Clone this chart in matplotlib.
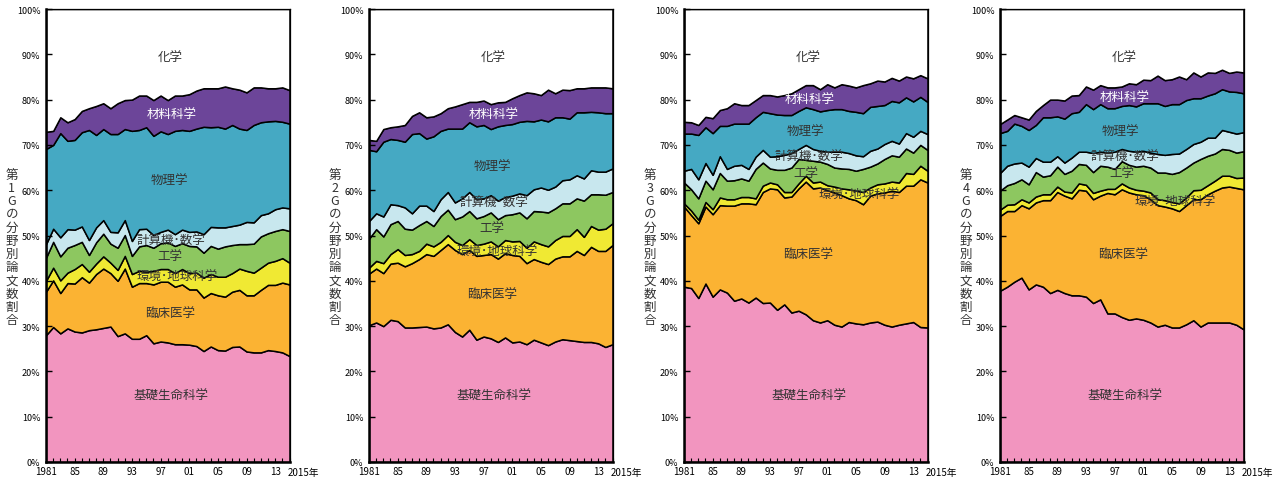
import numpy as np
import matplotlib
matplotlib.use('Agg')
import matplotlib.pyplot as plt

plt.rcParams['font.family'] = ['Noto Sans CJK JP', 'DejaVu Sans']

years = np.arange(1981, 2016)
fields = ['基礎生命科学', '臨床医学', '環境･地球科学', '工学', '計算機･数学', '物理学', '材料科学', '化学']
colors = ['#F295BF', '#FBB333', '#F0E933', '#8DC760', '#C8E7EE', '#45A9C3', '#6C4599', '#FFFFFF']
xtick_years = [1981, 1985, 1989, 1993, 1997, 2001, 2005, 2009, 2013]
xtick_labels = ['1981', '85', '89', '93', '97', '01', '05', '09', '13']

# 累積割合(%)：各行は下から順に各分野の上端
g1 = [
    [28.0, 29.8, 28.4, 29.5, 28.8, 28.6, 29.1, 29.3, 29.6, 29.9, 27.8, 28.4, 27.2, 27.2, 28.0, 26.2, 26.6, 26.4, 26.0, 26.0, 25.9, 25.6, 24.5, 25.5, 24.7, 24.6, 25.4, 25.5, 24.4, 24.2, 24.2, 24.7, 24.5, 24.2, 23.4],
    [37.6, 40.1, 37.3, 39.5, 39.4, 40.8, 39.6, 41.5, 42.7, 41.7, 40.0, 42.7, 38.7, 39.5, 39.5, 39.2, 39.8, 39.8, 38.7, 39.2, 38.1, 38.1, 36.3, 37.3, 36.8, 36.5, 37.6, 38.0, 36.8, 36.8, 38.0, 39.1, 39.1, 39.6, 39.2],
    [40.0, 42.9, 40.1, 41.8, 42.6, 43.7, 42.0, 43.8, 45.4, 44.0, 42.4, 45.5, 41.5, 42.2, 42.0, 42.2, 42.6, 42.6, 41.7, 42.6, 41.7, 41.8, 40.7, 41.5, 40.9, 40.9, 41.7, 42.7, 42.2, 41.8, 42.9, 44.0, 44.4, 45.0, 44.0],
    [45.1, 48.6, 45.4, 47.3, 47.9, 48.6, 45.7, 48.5, 50.4, 48.2, 47.3, 50.1, 45.5, 47.6, 47.9, 47.3, 48.3, 48.5, 47.7, 48.3, 47.7, 47.6, 46.2, 47.7, 47.1, 47.6, 47.9, 48.1, 48.1, 48.2, 49.8, 50.5, 51.0, 51.4, 51.0],
    [48.1, 51.5, 49.6, 51.4, 51.3, 52.0, 49.0, 51.8, 53.4, 50.8, 50.7, 53.4, 48.8, 51.4, 51.5, 50.1, 50.8, 51.3, 50.3, 51.3, 50.8, 50.9, 50.3, 51.9, 51.8, 51.8, 52.1, 52.4, 53.0, 52.9, 54.5, 54.9, 55.8, 56.2, 56.0],
    [69.1, 70.0, 72.6, 70.9, 71.1, 72.8, 73.3, 72.2, 73.5, 72.4, 72.4, 73.5, 73.1, 73.3, 73.9, 72.0, 73.0, 72.4, 73.1, 73.3, 73.1, 73.6, 74.0, 73.9, 74.0, 73.6, 74.4, 73.6, 73.3, 74.4, 75.0, 75.2, 75.3, 75.1, 74.7],
    [72.9, 73.1, 76.1, 75.0, 75.7, 77.5, 78.1, 78.6, 79.2, 78.1, 79.2, 79.9, 80.0, 80.9, 80.9, 79.9, 80.9, 79.9, 80.9, 80.9, 81.2, 82.0, 82.5, 82.5, 82.5, 82.9, 82.5, 82.2, 81.6, 82.7, 82.7, 82.5, 82.5, 82.7, 82.1],
]
g2 = [
    [30.2, 30.8, 30.0, 31.4, 31.1, 29.7, 29.7, 29.8, 29.9, 29.5, 29.7, 30.4, 28.7, 27.7, 29.2, 27.0, 27.7, 27.3, 26.5, 27.5, 26.4, 26.6, 26.0, 27.0, 26.4, 25.8, 26.6, 27.1, 26.9, 26.7, 26.5, 26.5, 26.2, 25.4, 26.0],
    [41.6, 42.7, 41.7, 43.8, 44.0, 43.2, 43.9, 44.8, 45.9, 45.5, 46.8, 48.1, 46.8, 45.9, 46.8, 45.5, 45.7, 45.9, 44.9, 46.1, 45.7, 45.5, 43.9, 44.8, 44.2, 43.7, 44.9, 45.4, 45.4, 46.6, 45.7, 47.5, 46.6, 46.6, 47.9],
    [42.9, 44.4, 43.9, 45.9, 47.0, 45.7, 45.9, 46.6, 48.2, 47.6, 48.6, 50.1, 48.6, 47.9, 49.2, 47.9, 48.2, 48.7, 47.6, 49.0, 48.7, 48.8, 47.3, 48.7, 48.1, 47.6, 49.0, 49.9, 49.9, 51.4, 49.7, 52.1, 51.3, 51.5, 52.7],
    [49.3, 51.4, 49.8, 52.5, 53.2, 51.5, 51.3, 52.3, 53.2, 52.1, 54.3, 55.7, 53.6, 54.2, 55.4, 53.8, 54.3, 55.1, 53.6, 54.5, 54.7, 55.1, 53.8, 55.4, 55.3, 55.1, 56.0, 57.1, 57.1, 58.2, 57.7, 59.1, 59.1, 59.0, 59.6],
    [53.2, 54.9, 54.2, 56.9, 56.7, 56.2, 54.9, 56.6, 56.6, 55.4, 58.0, 59.6, 57.3, 58.2, 59.6, 58.0, 58.2, 58.9, 57.7, 58.5, 58.8, 59.3, 58.9, 60.2, 60.6, 60.1, 60.8, 62.2, 62.4, 63.3, 62.6, 64.4, 64.1, 64.1, 64.8],
    [68.9, 68.6, 70.7, 71.3, 71.1, 70.7, 72.4, 72.6, 71.4, 71.9, 73.1, 73.6, 73.6, 73.6, 75.0, 74.1, 74.4, 73.5, 74.1, 74.4, 74.6, 75.1, 75.3, 75.2, 75.6, 75.2, 76.1, 76.1, 75.8, 77.2, 77.2, 77.3, 77.2, 77.0, 77.0],
    [71.1, 70.9, 73.5, 73.9, 74.1, 74.4, 76.4, 77.2, 76.1, 76.3, 77.0, 78.1, 78.5, 79.0, 79.5, 79.5, 79.8, 79.0, 79.4, 79.5, 80.3, 81.0, 81.6, 81.4, 81.0, 82.2, 81.4, 82.2, 82.1, 82.5, 82.5, 82.7, 82.7, 82.7, 82.5],
]
g3 = [
    [38.7, 38.4, 36.2, 39.4, 36.5, 38.1, 37.4, 35.6, 36.1, 35.2, 36.3, 35.1, 35.2, 33.6, 34.8, 33.0, 33.4, 32.6, 31.3, 30.8, 31.3, 30.3, 29.9, 30.9, 30.6, 30.4, 30.8, 31.0, 30.3, 29.9, 30.3, 30.6, 30.9, 29.8, 29.7],
    [56.4, 54.5, 52.7, 56.4, 54.7, 56.7, 56.6, 56.6, 57.1, 57.1, 56.9, 59.6, 60.4, 60.2, 58.4, 58.6, 60.4, 61.9, 60.4, 60.6, 60.0, 59.5, 58.9, 58.2, 57.8, 56.9, 58.8, 59.3, 59.5, 59.9, 59.6, 61.0, 61.0, 62.4, 61.7],
    [57.1, 55.5, 53.5, 57.4, 55.8, 58.4, 58.0, 58.0, 58.5, 58.5, 58.2, 61.0, 61.7, 61.3, 59.6, 59.6, 61.5, 63.2, 61.7, 61.9, 61.1, 60.8, 60.4, 60.2, 59.9, 59.6, 60.6, 61.3, 61.5, 61.9, 61.7, 63.8, 63.6, 65.4, 64.3],
    [61.7, 60.2, 58.2, 62.1, 60.2, 63.8, 62.1, 62.2, 62.6, 62.1, 64.7, 66.1, 64.8, 64.5, 64.5, 65.0, 66.9, 66.7, 66.5, 66.3, 65.8, 65.0, 64.8, 64.7, 64.3, 64.7, 65.2, 65.9, 66.9, 67.7, 67.4, 69.2, 68.3, 70.0, 68.9],
    [64.3, 64.7, 62.4, 66.0, 63.4, 67.5, 64.7, 65.4, 65.6, 64.7, 67.4, 68.9, 67.4, 67.5, 67.8, 68.2, 69.1, 70.0, 69.1, 68.7, 68.5, 68.5, 68.5, 68.2, 67.7, 67.5, 68.7, 69.2, 70.2, 70.9, 70.3, 72.6, 71.8, 73.1, 72.4],
    [72.5, 72.5, 72.2, 73.9, 72.6, 74.2, 74.2, 74.7, 74.7, 74.7, 76.1, 77.3, 77.0, 76.7, 76.6, 76.6, 77.5, 78.3, 77.9, 77.4, 77.7, 77.9, 77.9, 77.5, 77.3, 77.0, 78.4, 78.6, 78.8, 79.7, 79.4, 80.5, 79.6, 80.6, 79.5],
    [75.1, 75.0, 74.4, 76.2, 75.9, 77.7, 78.1, 79.2, 78.8, 78.8, 79.9, 81.0, 81.0, 80.7, 81.0, 81.4, 82.3, 83.2, 83.2, 82.3, 83.4, 82.7, 83.4, 83.1, 82.7, 83.2, 83.6, 84.2, 84.0, 84.8, 84.2, 85.1, 84.7, 85.4, 84.7],
]
g4 = [
    [37.8, 38.7, 39.8, 40.7, 38.1, 39.2, 38.7, 37.3, 38.0, 37.3, 36.8, 36.8, 36.5, 35.1, 35.9, 32.8, 32.8, 32.0, 31.4, 31.7, 31.4, 30.8, 29.9, 30.3, 29.7, 29.7, 30.4, 31.3, 29.9, 30.8, 30.8, 30.8, 30.8, 30.3, 29.3],
    [54.3, 55.4, 55.4, 56.7, 56.0, 57.3, 57.8, 57.8, 59.6, 58.8, 58.2, 60.1, 59.9, 58.0, 58.8, 59.4, 59.1, 60.2, 59.5, 59.1, 58.9, 58.0, 56.7, 56.4, 56.0, 55.4, 56.7, 58.0, 58.0, 59.1, 59.9, 60.6, 60.8, 60.5, 60.2],
    [55.7, 56.8, 56.9, 58.0, 57.3, 58.6, 59.1, 59.1, 60.8, 59.7, 59.5, 61.5, 61.2, 59.4, 59.9, 60.3, 60.3, 61.5, 60.6, 60.1, 59.9, 59.5, 58.0, 57.8, 57.4, 57.1, 58.4, 60.0, 60.1, 61.1, 62.1, 63.2, 63.2, 62.7, 62.8],
    [59.9, 61.1, 61.6, 62.4, 61.3, 64.0, 63.0, 63.3, 65.2, 63.6, 64.3, 65.8, 65.6, 64.0, 65.4, 65.2, 64.7, 66.4, 65.6, 65.2, 65.4, 65.0, 63.9, 63.9, 63.6, 64.0, 65.0, 66.1, 66.9, 67.6, 68.1, 69.1, 68.9, 68.3, 68.6],
    [63.8, 65.4, 65.9, 66.1, 65.2, 67.1, 66.3, 66.3, 67.5, 66.1, 67.2, 68.5, 68.5, 68.2, 68.5, 68.3, 68.5, 69.1, 68.7, 68.5, 68.7, 68.3, 68.0, 67.8, 68.0, 68.1, 69.1, 70.2, 70.7, 71.6, 71.6, 73.3, 72.9, 72.5, 72.8],
    [72.6, 73.1, 74.7, 74.2, 73.3, 74.4, 76.1, 76.1, 76.3, 75.8, 77.0, 77.3, 79.0, 77.9, 79.0, 78.1, 78.1, 78.6, 78.8, 78.5, 79.2, 79.2, 79.2, 78.6, 79.0, 79.0, 79.9, 80.3, 80.3, 80.9, 81.4, 82.3, 81.8, 81.7, 81.4],
    [74.6, 75.6, 76.6, 76.1, 75.6, 77.5, 78.8, 80.0, 80.0, 79.8, 80.9, 81.0, 82.9, 82.2, 83.2, 82.7, 82.7, 82.9, 83.6, 83.4, 84.4, 84.3, 85.3, 84.3, 84.5, 85.1, 84.5, 86.0, 85.1, 86.0, 85.9, 86.6, 85.9, 86.2, 86.0],
]

# 分野名ラベルの位置 (年, %)
pos_1 = [(1998.4, 14.8), (1998.3, 32.8), (1999.3, 40.9), (1998.3, 45.5), (1998.5, 49.0), (1998.2, 62.1), (1998.5, 76.7), (1998.3, 89.3)]
pos_2 = [(1998.4, 14.8), (1998.2, 37.0), (1998.9, 46.5), (1998.2, 51.7), (1998.4, 57.3), (1998.2, 65.2), (1998.4, 76.7), (1998.3, 89.3)]
pos_3 = [(1998.5, 14.8), (1998.3, 45.7), (2005.5, 59.1), (1998.0, 63.9), (1998.5, 67.5), (1997.9, 73.0), (1998.5, 80.0), (1998.3, 89.3)]
pos_4 = [(1998.4, 14.8), (1998.2, 45.7), (2005.4, 57.5), (1998.0, 63.9), (1998.4, 67.5), (1997.8, 73.0), (1998.4, 80.5), (1998.3, 89.3)]

groups = [g1, g2, g3, g4]
label_pos = [pos_1, pos_2, pos_3, pos_4]
lefts = [46, 369, 684, 1000]

fig = plt.figure(figsize=(12.77, 4.81), dpi=100)

for k, (cum, pos) in enumerate(zip(groups, label_pos)):
    ax = fig.add_axes([lefts[k] / 1277, 18 / 481, 243.5 / 1277, 453 / 481])
    cum = np.array(cum)
    shares = np.diff(np.vstack([np.zeros(len(years)), cum, np.full(len(years), 100.0)]), axis=0)
    ax.stackplot(years, shares, colors=colors, edgecolor='black', linewidth=1.1)

    ax.set_xlim(1981, 2015)
    ax.set_ylim(0, 100)
    ax.set_yticks(np.arange(0, 101, 10))
    ax.set_yticklabels([f'{v}%' for v in range(0, 101, 10)], fontsize=6.5)
    ax.set_xticks(xtick_years)
    ax.set_xticklabels(xtick_labels, fontsize=7)
    ax.set_xticks(years, minor=True)
    ax.tick_params(axis='y', direction='in', length=4, width=1, pad=4)
    ax.tick_params(axis='x', which='both', direction='in', length=3, width=0.8, pad=3)
    for s in ['left', 'bottom']:
        ax.spines[s].set_linewidth(1.8)
    for s in ['top', 'right']:
        ax.spines[s].set_linewidth(0.9)

    ax.text(2014.8, -0.012, '2015年', transform=ax.get_xaxis_transform(),
            ha='left', va='top', fontsize=7)

    for i, name in enumerate(fields):
        c = 'white' if name == '材料科学' else '#333333'
        ax.text(pos[i][0], pos[i][1], name, ha='center', va='center', fontsize=9, color=c)

    ylab = '\n'.join(['第', str(k + 1), 'G', 'の', '分', '野', '別', '論', '文', '数', '割', '合'])
    ax.text(-0.14, 0.475, ylab, transform=ax.transAxes, ha='center', va='center',
            fontsize=9, linespacing=1.02, color='#333333')

fig.savefig('out.png', dpi=100)
